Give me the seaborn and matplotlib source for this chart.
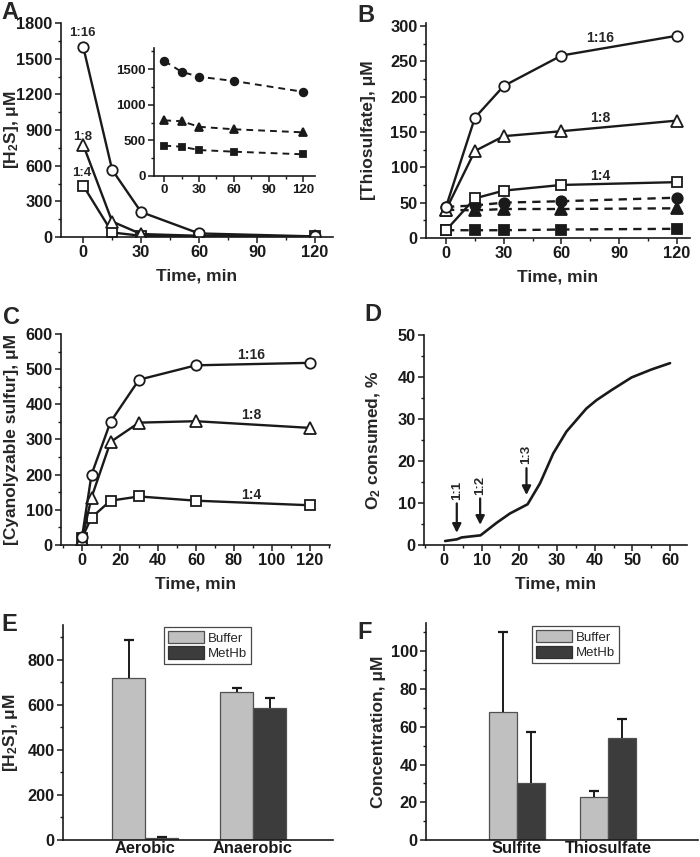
import numpy as np
import pandas as pd
import matplotlib
matplotlib.use("Agg")
import matplotlib.pyplot as plt
import seaborn as sns
from matplotlib.ticker import MultipleLocator

# ---------------- data ----------------
time_A = [0, 15, 30, 60, 120]
h2s_116 = [1600, 565, 210, 30, 5]
h2s_18 = [775, 130, 25, 10, 5]
h2s_14 = [432, 38, 10, 5, 5]
h2s_116_ctrl = [1612, 1460, 1392, 1332, 1180]
h2s_18_ctrl = [780, 768, 690, 655, 612]
h2s_14_ctrl = [425, 411, 364, 341, 304]

time_B = [0, 15, 30, 60, 120]
thio_116 = [44, 170, 215, 258, 286]
thio_18 = [40, 123, 144, 151, 166]
thio_14 = [11, 56, 67, 75, 79]
thio_116_ctrl = [44, 46, 50, 52, 57]
thio_18_ctrl = [40, 39, 41, 41, 42]
thio_14_ctrl = [11, 11, 11, 12, 13]

time_C = [0, 5, 15, 30, 60, 120]
cyan_116 = [22, 200, 350, 470, 511, 518]
cyan_18 = [15, 135, 293, 348, 352, 333]
cyan_14 = [20, 78, 126, 138, 126, 113]

time_D = [0.3, 3.4, 4.7, 9.7, 14, 17.5, 22.2, 25.5, 29, 32.5, 37.8, 40.5, 44.5, 49.8, 55.1, 60]
o2_D = [0.95, 1.35, 1.8, 2.3, 5.3, 7.5, 9.7, 14.7, 21.8, 27, 32.5, 34.5, 36.9, 39.9, 41.8, 43.3]
arrow_t = [3.4, 9.6, 21.9]
arrow_top = [9.9, 11.1, 18.3]
arrow_tip = [2.9, 4.8, 11.9]
arrow_lab = ["1:1", "1:2", "1:3"]

cond_E = ["Aerobic", "Anaerobic"]
buffer_E = [720, 658]
buffer_E_err = [170, 15]
methb_E = [8, 588]
methb_E_err = [5, 42]

cond_F = ["Sulfite", "Thiosulfate"]
buffer_F = [68, 23]
buffer_F_err = [42, 3]
methb_F = [30, 54]
methb_F_err = [27, 10]

# ---------------- style ----------------
sns.set_theme(style="ticks")
plt.rcParams.update({
    "font.family": ["Liberation Sans", "DejaVu Sans"],
    "font.weight": "bold",
    "axes.labelweight": "bold",
    "axes.labelsize": 12.5,
    "xtick.labelsize": 11.8,
    "ytick.labelsize": 11.8,
    "axes.linewidth": 1.2,
    "xtick.direction": "out",
    "ytick.direction": "out",
    "xtick.major.size": 4,
    "ytick.major.size": 4,
    "xtick.minor.size": 2.2,
    "ytick.minor.size": 2.2,
    "xtick.major.width": 1.1,
    "ytick.major.width": 1.1,
    "xtick.minor.width": 1.0,
    "ytick.minor.width": 1.0,
    "xtick.color": "k",
    "ytick.color": "k",
    "axes.edgecolor": "k",
    "mathtext.fontset": "custom",
    "mathtext.rm": "Liberation Sans:bold",
    "mathtext.it": "Liberation Sans:bold:italic",
    "mathtext.bf": "Liberation Sans:bold",
})

W, H = 700, 857
fig = plt.figure(figsize=(7, 8.57), dpi=100)


def add_ax(left, right, top, bottom):
    return fig.add_axes([left / W, 1 - bottom / H, (right - left) / W, (bottom - top) / H])


def style_ax(ax):
    sns.despine(ax=ax)
    ax.tick_params(axis="both", which="major", pad=2)


def set_ylab(ax, text, xpix):
    """Place the y label so that its centre line sits at figure pixel xpix."""
    lab = ax.set_ylabel(text)
    lab.set_verticalalignment("center")
    pos = ax.get_position()
    xa = (xpix / W - pos.x0) / pos.width
    ax.yaxis.set_label_coords(xa, 0.5)


def series(ax, x, y, marker, filled=False, dashed=False, ms=7.5, lw=1.7):
    sns.lineplot(x=x, y=y, ax=ax, color="k", lw=lw, marker=marker, markersize=ms,
                 markerfacecolor="k" if filled else "white", markeredgecolor="k",
                 markeredgewidth=1.3, legend=False)
    line = ax.lines[-1]
    if dashed:
        line.set_linestyle((0, (3.5, 2.6)))
    return line


# ---------------- A ----------------
axA = add_ax(61, 333, 23, 237)
for y, m, ms in [(h2s_14, "s", 6.5), (h2s_18, "^", 8), (h2s_116, "o", 7.5)]:
    series(axA, time_A, y, m, ms=ms)
axA.set_xlim(-11.5, 129.4)
axA.set_ylim(0, 1800)
axA.xaxis.set_major_locator(MultipleLocator(30))
axA.xaxis.set_minor_locator(MultipleLocator(15))
axA.yaxis.set_major_locator(MultipleLocator(300))
axA.yaxis.set_minor_locator(MultipleLocator(150))
axA.set_xlabel("Time, min", labelpad=6)
style_ax(axA)
set_ylab(axA, "[H$_2$S], μM", 11)
for lab, yv in [("1:16", 1713), ("1:8", 843), ("1:4", 537)]:
    axA.text(-0.5, yv, lab, ha="center", va="center", fontsize=9.5, fontweight="bold")

axI = add_ax(154, 315, 47.6, 176)
for y, m, ms in [(h2s_116_ctrl, "o", 5.5), (h2s_18_ctrl, "^", 6), (h2s_14_ctrl, "s", 5)]:
    series(axI, time_A, y, m, filled=True, dashed=True, ms=ms, lw=1.4)
axI.set_xlim(-8.9, 130.1)
axI.set_ylim(0, 1800)
axI.xaxis.set_major_locator(MultipleLocator(30))
axI.xaxis.set_minor_locator(MultipleLocator(15))
axI.yaxis.set_major_locator(MultipleLocator(500))
axI.yaxis.set_minor_locator(MultipleLocator(250))
axI.set_xlabel("")
axI.set_ylabel("")
style_ax(axI)
axI.tick_params(labelsize=9.5)

# ---------------- B ----------------
axB = add_ax(426, 690, 23, 238)
for y, m, ms in [(thio_116_ctrl, "o", 7.5), (thio_18_ctrl, "^", 8), (thio_14_ctrl, "s", 6.5)]:
    series(axB, time_B, y, m, filled=True, dashed=True, ms=ms)
for y, m, ms in [(thio_14, "s", 6.5), (thio_18, "^", 8), (thio_116, "o", 7.5)]:
    series(axB, time_B, y, m, ms=ms)
axB.set_xlim(-10.4, 126.8)
axB.set_ylim(0, 304)
axB.xaxis.set_major_locator(MultipleLocator(30))
axB.xaxis.set_minor_locator(MultipleLocator(15))
axB.yaxis.set_major_locator(MultipleLocator(50))
axB.yaxis.set_minor_locator(MultipleLocator(25))
axB.set_xlabel("Time, min", labelpad=6)
style_ax(axB)
set_ylab(axB, "[Thiosulfate], μM", 369)
for lab, yv in [("1:16", 283), ("1:8", 170), ("1:4", 88)]:
    axB.text(80, yv, lab, ha="center", va="center", fontsize=10, fontweight="bold")

# ---------------- C ----------------
axC = add_ax(61, 330, 334, 545)
for y, m, ms in [(cyan_14, "s", 6.5), (cyan_18, "^", 8), (cyan_116, "o", 7.5)]:
    series(axC, time_C, y, m, ms=ms)
axC.set_xlim(-11.05, 130.5)
axC.set_ylim(0, 600)
axC.xaxis.set_major_locator(MultipleLocator(20))
axC.xaxis.set_minor_locator(MultipleLocator(10))
axC.yaxis.set_major_locator(MultipleLocator(100))
axC.yaxis.set_minor_locator(MultipleLocator(50))
axC.set_xlabel("Time, min", labelpad=6)
style_ax(axC)
set_ylab(axC, "[Cyanolyzable sulfur], μM", 12)
for lab, yv in [("1:16", 540), ("1:8", 370), ("1:4", 142)]:
    axC.text(89, yv, lab, ha="center", va="center", fontsize=10, fontweight="bold")

# ---------------- D ----------------
axD = add_ax(424, 687, 335, 545)
sns.lineplot(x=time_D, y=o2_D, ax=axD, color="k", lw=1.9, legend=False)
axD.set_xlim(-5.3, 64.5)
axD.set_ylim(0, 50)
axD.xaxis.set_major_locator(MultipleLocator(10))
axD.xaxis.set_minor_locator(MultipleLocator(5))
axD.yaxis.set_major_locator(MultipleLocator(10))
axD.yaxis.set_minor_locator(MultipleLocator(5))
axD.set_xlabel("Time, min", labelpad=6)
style_ax(axD)
set_ylab(axD, "O$_2$ consumed, %", 374)
for t, top, tip, lab in zip(arrow_t, arrow_top, arrow_tip, arrow_lab):
    axD.annotate("", xy=(t, tip), xytext=(t, top),
                 arrowprops=dict(arrowstyle="-|>", color="k", lw=1.6, mutation_scale=13,
                                 shrinkA=0, shrinkB=0))
    axD.text(t, top + 0.9, lab, rotation=90, ha="center", va="bottom", fontsize=9.5,
             fontweight="bold")

# ---------------- E & F ----------------
pal = ["#c0c0c0", "#3c3c3c"]


def bar_panel(ax, conds, buf, buf_err, met, met_err, ylim, xlim, major, minor, ylabel, ylx,
              leg_anchor):
    df = pd.DataFrame({
        "cond": conds + conds,
        "val": buf + met,
        "grp": ["Buffer"] * len(conds) + ["MetHb"] * len(conds),
    })
    sns.barplot(data=df, x="cond", y="val", hue="grp", palette=pal, width=0.61,
                errorbar=None, ax=ax, edgecolor="#505050", linewidth=0.9, saturation=1)
    errs = [buf_err, met_err]
    for cont, err in zip(ax.containers, errs):
        for rect, e in zip(cont, err):
            xc = rect.get_x() + rect.get_width() / 2
            h = rect.get_height()
            ax.plot([xc, xc], [h, h + e], color="k", lw=1.4, solid_capstyle="butt")
            ax.plot([xc], [h + e], marker="_", color="k", ms=7, mew=1.6)
    ax.set_xlim(*xlim)
    ax.set_ylim(*ylim)
    ax.yaxis.set_major_locator(MultipleLocator(major))
    ax.yaxis.set_minor_locator(MultipleLocator(minor))
    ax.set_xlabel("")
    style_ax(ax)
    ax.tick_params(axis="x", length=0, pad=1)
    set_ylab(ax, ylabel, ylx)
    handles = [plt.Rectangle((0, 0), 1, 1, facecolor=pal[0], edgecolor="#505050", lw=0.9),
               plt.Rectangle((0, 0), 1, 1, facecolor=pal[1], edgecolor="#303030", lw=0.9)]
    if ax.get_legend() is not None:
        ax.get_legend().remove()
    leg = ax.legend(handles, ["Buffer", "MetHb"], loc="upper left", bbox_to_anchor=leg_anchor,
                    borderaxespad=0, frameon=True, fancybox=False, edgecolor="k",
                    prop={"weight": "normal", "size": 9.5}, handlelength=2.7,
                    handleheight=1.05, borderpad=0.3, labelspacing=0.15, handletextpad=0.3)
    leg.get_frame().set_linewidth(0.9)


axE = add_ax(63, 333, 625, 840)
bar_panel(axE, cond_E, buffer_E, buffer_E_err, methb_E, methb_E_err, (0, 955), (-0.76, 1.74),
          200, 100, "[H$_2$S], μM", 10, (0.374, 0.991))

axF = add_ax(426, 698, 623, 840)
bar_panel(axF, cond_F, buffer_F, buffer_F_err, methb_F, methb_F_err, (0, 115), (-1.0, 1.99),
          20, 10, "Concentration, μM", 378, (0.39, 0.986))

# ---------------- panel letters ----------------
for lab, x, y in [("A", 1, 1), ("B", 357, 4), ("C", 3, 306), ("D", 364, 303),
                  ("E", 1, 613), ("F", 357, 621)]:
    fig.text(x / W, 1 - y / H, lab, ha="left", va="top", fontsize=17, fontweight="bold")

fig.savefig("out.png", dpi=100)
